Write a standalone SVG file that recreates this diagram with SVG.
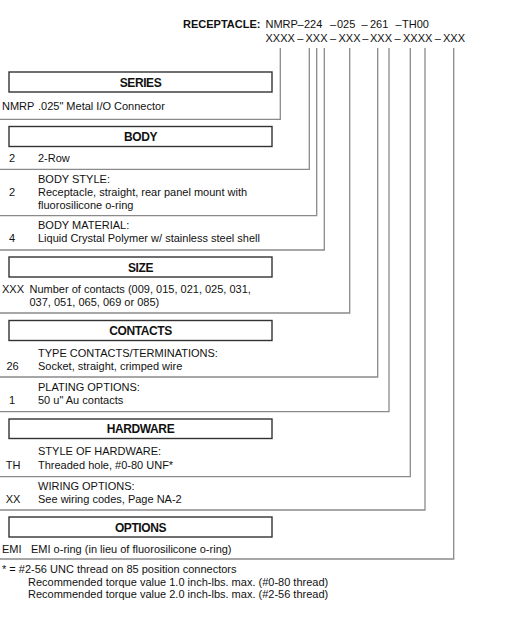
<svg xmlns="http://www.w3.org/2000/svg" width="507" height="620" viewBox="0 0 507 620">
<style>
  text { font-family: "Liberation Sans", Arial, sans-serif; font-size: 11px; fill: #111111; }
  .b { font-weight: bold; }
  .h { font-weight: bold; font-size: 12px; text-anchor: middle; letter-spacing: -0.4px; }
  .c { text-anchor: middle; }
  .box { fill: #ffffff; stroke: #333333; stroke-width: 1.4; }
  .ln { fill: none; stroke: #8a8a8a; stroke-width: 1.3; }
</style>
<rect width="507" height="620" fill="#ffffff"/>

<g id="part-number">
  <text class="b" x="183" y="28">RECEPTACLE:</text>
  <text y="28"><tspan x="265.5">NMRP</tspan><tspan x="297.6">–</tspan><tspan x="304">224</tspan><tspan x="330">–</tspan><tspan x="337">025</tspan><tspan x="361.5">–</tspan><tspan x="370">261</tspan><tspan x="395.5">–</tspan><tspan x="402">TH00</tspan></text>
  <text y="41.5"><tspan x="265.5">XXXX</tspan><tspan x="297.2">–</tspan><tspan x="305.5">XXX</tspan><tspan x="330">–</tspan><tspan x="338.5">XXX</tspan><tspan x="362.2">–</tspan><tspan x="370">XXX</tspan><tspan x="394.5">–</tspan><tspan x="403">XXXX</tspan><tspan x="434.7">–</tspan><tspan x="443">XXX</tspan></text>
</g>

<g id="connectors">
  <polyline class="ln" points="280.3,48 280.3,119.3 0,119.3"/>
  <polyline class="ln" points="309.3,48 309.3,169.3 0,169.3"/>
  <polyline class="ln" points="316.7,48 316.7,215.7 0,215.7"/>
  <polyline class="ln" points="324.3,48 324.3,250 0,250"/>
  <polyline class="ln" points="349.7,48 349.7,313 0,313"/>
  <polyline class="ln" points="377.7,48 377.7,377 0,377"/>
  <polyline class="ln" points="389,48 389,411.7 0,411.7"/>
  <polyline class="ln" points="410.3,48 410.3,476.7 0,476.7"/>
  <polyline class="ln" points="425,48 425,510 0,510"/>
  <polyline class="ln" points="453.7,48 453.7,559 0,559"/>
</g>

<g id="series">
  <rect class="box" x="9" y="72" width="263" height="20"/>
  <text class="h" x="140.5" y="86.5">SERIES</text>
  <text x="2" y="110">NMRP</text>
  <text x="38" y="110">.025" Metal I/O Connector</text>
</g>

<g id="body">
  <rect class="box" x="9" y="126.5" width="263" height="20"/>
  <text class="h" x="140.5" y="141">BODY</text>
  <text class="c" x="12" y="161.5">2</text>
  <text x="38" y="161.5">2-Row</text>
</g>

<g id="body-style">
  <text x="38" y="182.5">BODY STYLE:</text>
  <text class="c" x="12" y="195.5">2</text>
  <text x="38" y="195.5">Receptacle, straight, rear panel mount with</text>
  <text x="38" y="208.5">fluorosilicone o-ring</text>
</g>

<g id="body-material">
  <text x="38" y="229">BODY MATERIAL:</text>
  <text class="c" x="12" y="242">4</text>
  <text x="38" y="242">Liquid Crystal Polymer w/ stainless steel shell</text>
</g>

<g id="size">
  <rect class="box" x="9" y="257" width="263" height="20"/>
  <text class="h" x="140.5" y="271.5">SIZE</text>
  <text x="2" y="292.5">XXX</text>
  <text x="29.5" y="292.5">Number of contacts (009, 015, 021, 025, 031,</text>
  <text x="29.5" y="305.5">037, 051, 065, 069 or 085)</text>
</g>

<g id="contacts">
  <rect class="box" x="9" y="320.5" width="263" height="20"/>
  <text class="h" x="140.5" y="335">CONTACTS</text>
  <text x="38" y="356.5">TYPE CONTACTS/TERMINATIONS:</text>
  <text class="c" x="12.5" y="369.5">26</text>
  <text x="38" y="369.5">Socket, straight, crimped wire</text>
</g>

<g id="plating">
  <text x="38" y="390.5">PLATING OPTIONS:</text>
  <text class="c" x="12" y="403.5">1</text>
  <text x="38" y="403.5">50 u" Au contacts</text>
</g>

<g id="hardware">
  <rect class="box" x="9" y="419" width="263" height="19.5"/>
  <text class="h" x="140.5" y="433">HARDWARE</text>
  <text x="38" y="455">STYLE OF HARDWARE:</text>
  <text class="c" x="13" y="468.5">TH</text>
  <text x="38" y="468.5">Threaded hole, #0-80 UNF*</text>
</g>

<g id="wiring">
  <text x="38" y="490">WIRING OPTIONS:</text>
  <text class="c" x="13" y="503">XX</text>
  <text x="38" y="503">See wiring codes, Page NA-2</text>
</g>

<g id="options">
  <rect class="box" x="9" y="517" width="263" height="20"/>
  <text class="h" x="140.5" y="531.5">OPTIONS</text>
  <text x="2" y="552.5">EMI</text>
  <text x="31" y="552.5">EMI o-ring (in lieu of fluorosilicone o-ring)</text>
</g>

<g id="notes">
  <text x="2" y="573">* = #2-56 UNC thread on 85 position connectors</text>
  <text x="28" y="585.5">Recommended torque value 1.0 inch-lbs. max. (#0-80 thread)</text>
  <text x="28" y="598">Recommended torque value 2.0 inch-lbs. max. (#2-56 thread)</text>
</g>
</svg>
